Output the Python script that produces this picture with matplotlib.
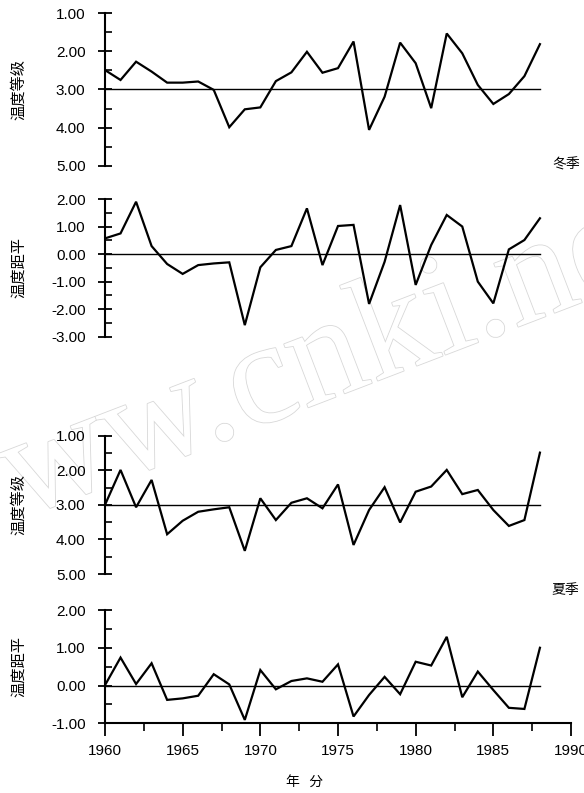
import matplotlib
matplotlib.use('Agg')
import matplotlib.pyplot as plt
import matplotlib.patheffects as pe
from matplotlib.ticker import MultipleLocator, FormatStrFormatter
import numpy as np

plt.rcParams['font.family'] = ['Liberation Sans', 'Noto Sans CJK SC', 'DejaVu Sans']

years = np.arange(1960, 1989)

# winter temperature grade (1 = warm ... 5 = cold)
winter_grade = [2.49, 2.75, 2.27, 2.53, 2.82, 2.82, 2.79, 3.01, 3.99, 3.52,
                3.47, 2.78, 2.55, 2.01, 2.56, 2.44, 1.74, 4.06, 3.19, 1.77,
                2.31, 3.49, 1.53, 2.05, 2.88, 3.38, 3.12, 2.65, 1.81]
# winter temperature anomaly
winter_anom = [0.57, 0.75, 1.90, 0.29, -0.36, -0.72, -0.40, -0.34, -0.30, -2.58,
               -0.48, 0.15, 0.29, 1.66, -0.40, 1.02, 1.06, -1.81, -0.28, 1.78,
               -1.12, 0.33, 1.42, 1.00, -1.00, -1.79, 0.17, 0.51, 1.30]
# summer temperature grade
summer_grade = [3.00, 1.99, 3.07, 2.28, 3.85, 3.46, 3.20, 3.13, 3.07, 4.33,
                2.81, 3.44, 2.94, 2.81, 3.10, 2.41, 4.16, 3.15, 2.49, 3.51,
                2.62, 2.47, 1.99, 2.69, 2.57, 3.15, 3.61, 3.44, 1.49]
# summer temperature anomaly
summer_anom = [0.01, 0.74, 0.04, 0.59, -0.38, -0.34, -0.27, 0.30, 0.03, -0.91,
               0.41, -0.10, 0.12, 0.19, 0.10, 0.56, -0.82, -0.25, 0.23, -0.23,
               0.63, 0.53, 1.29, -0.31, 0.37, -0.12, -0.59, -0.62, 1.00]

W, H = 584, 793
fig = plt.figure(figsize=(W / 100, H / 100), dpi=100)


def box(top, bottom):
    return [105 / W, 1 - bottom / H, 466 / W, (bottom - top) / H]


panels = [
    (box(13.3, 165.7), winter_grade, (5, 1), 3.0, '温度等级'),
    (box(199, 336.7), winter_anom, (-3, 2), 0.0, '温度距平'),
    (box(435.7, 574), summer_grade, (5, 1), 3.0, '温度等级'),
    (box(610, 723.3), summer_anom, (-1, 2), 0.0, '温度距平'),
]

axes = []
for i, (pos, vals, lim, ref, lab) in enumerate(panels):
    ax = fig.add_axes(pos)
    ax.patch.set_visible(False)
    ax.plot(years, vals, color='black', lw=1.6, solid_joinstyle='miter', zorder=3)
    ax.plot([years[0], years[-1]], [ref, ref], color='black', lw=1.0, zorder=2)
    ax.set_xlim(1960, 1990)
    ax.set_ylim(*lim)
    ax.yaxis.set_major_locator(MultipleLocator(1))
    ax.yaxis.set_minor_locator(MultipleLocator(0.5))
    ax.yaxis.set_major_formatter(FormatStrFormatter('%.2f'))
    for s in ['top', 'right']:
        ax.spines[s].set_visible(False)
    ax.spines['left'].set_linewidth(1.5)
    ax.tick_params(axis='y', which='major', direction='inout', length=10,
                   width=1.3, labelsize=11, pad=9)
    ax.tick_params(axis='y', which='minor', direction='in', length=5, width=1.2)
    ax.set_ylabel(lab, fontsize=11, family=['Noto Sans CJK SC'])
    ax.yaxis.set_label_coords(-0.167, 0.5)
    if i < 3:
        ax.spines['bottom'].set_visible(False)
        ax.set_xticks([])
    axes.append(ax)

ax = axes[3]
ax.spines['bottom'].set_linewidth(1.5)
ax.xaxis.set_major_locator(MultipleLocator(5))
ax.xaxis.set_minor_locator(MultipleLocator(2.5))
ax.tick_params(axis='x', which='major', direction='out', length=9, width=1.3,
               labelsize=11, pad=6)
ax.tick_params(axis='x', which='minor', direction='out', length=6, width=1.2)

cjk = ['Noto Sans CJK SC']
fig.text(566 / W, 1 - 164 / H, '冬季', fontsize=10, family=cjk, ha='center', va='center')
fig.text(565 / W, 1 - 590 / H, '夏季', fontsize=10, family=cjk, ha='center', va='center')
fig.text(305 / W, 1 - 782 / H, '年   分', fontsize=10, family=cjk, ha='center', va='center')

# faint scanned watermark
wm = fig.text(-79 / W, 1 - 556 / H, 'www.cnki.net', fontsize=106, family='Liberation Serif',
              color='white', rotation=21, rotation_mode='anchor',
              ha='left', va='baseline', zorder=-1)
wm.set_path_effects([pe.withStroke(linewidth=1.2, foreground='#d8d8d8')])

fig.savefig('out.png', dpi=100)
